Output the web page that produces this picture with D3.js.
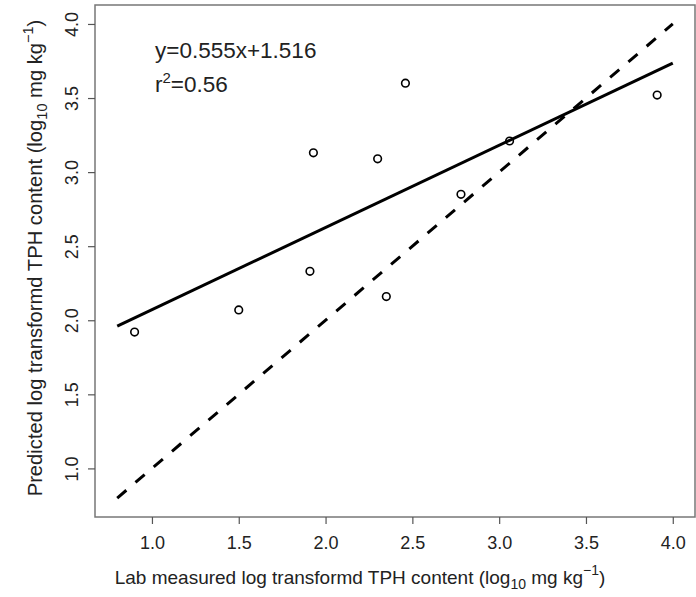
<!DOCTYPE html>
<html><head><meta charset="utf-8">
<script src="https://cdn.jsdelivr.net/npm/d3@7"></script>
<style>body{margin:0;background:#fff;} svg{display:block;font-family:"Liberation Sans",Arial,sans-serif;}</style>
</head><body>
<svg id="c" width="696" height="597"></svg>
<script>
const labX = [0.90, 1.50, 1.91, 1.93, 2.30, 2.35, 2.46, 2.78, 3.06, 3.91];
const predY = [1.92, 2.07, 2.33, 3.13, 3.09, 2.16, 3.60, 2.85, 3.21, 3.52];
const xTicks = [1.0, 1.5, 2.0, 2.5, 3.0, 3.5, 4.0];
const yTicks = [1.0, 1.5, 2.0, 2.5, 3.0, 3.5, 4.0];
const fitSlope = 0.555, fitIntercept = 1.516;
const lineRange = [0.8, 4.0];
const eqText = "y=0.555x+1.516";
const r2Value = "0.56";

const svg = d3.select("#c");
const L = 95, R = 695, T = 5, B = 517;
const x = d3.scaleLinear().domain([0.672, 4.128]).range([L, R]);
const y = d3.scaleLinear().domain([0.672, 4.128]).range([B, T]);
const ink = "#222";

// frame
svg.append("rect").attr("x", L).attr("y", T).attr("width", R - L).attr("height", B - T)
  .attr("fill", "none").attr("stroke", "#777").attr("stroke-width", 1.5);

// x axis
const xa = svg.append("g").attr("transform", `translate(0,${B})`)
  .call(d3.axisBottom(x).tickValues(xTicks).tickSize(7).tickSizeOuter(0).tickFormat(d3.format(".1f")));
xa.select(".domain").remove();
xa.selectAll(".tick line").attr("stroke", "#555").attr("stroke-width", 1.2);
xa.selectAll(".tick text").attr("font-size", 18).attr("fill", ink).attr("font-family", "Liberation Sans, Arial, sans-serif")
  .attr("y", 0).attr("dy", 0).attr("transform", "translate(0,32)");

// y axis
const ya = svg.append("g").attr("transform", `translate(${L},0)`)
  .call(d3.axisLeft(y).tickValues(yTicks).tickSize(7).tickSizeOuter(0).tickFormat(d3.format(".1f")));
ya.select(".domain").remove();
ya.selectAll(".tick line").attr("stroke", "#555").attr("stroke-width", 1.2);
ya.selectAll(".tick text").attr("font-size", 18).attr("fill", ink).attr("font-family", "Liberation Sans, Arial, sans-serif")
  .attr("x", 0).attr("dy", 0).attr("text-anchor", "middle")
  .attr("transform", "translate(-17,0) rotate(-90)");

// 1:1 dashed line
svg.append("line")
  .attr("x1", x(lineRange[0])).attr("y1", y(lineRange[0]))
  .attr("x2", x(lineRange[1])).attr("y2", y(lineRange[1]))
  .attr("stroke", "#000").attr("stroke-width", 3).attr("stroke-dasharray", "12,12");

// regression line
svg.append("line")
  .attr("x1", x(lineRange[0])).attr("y1", y(fitSlope * lineRange[0] + fitIntercept))
  .attr("x2", x(lineRange[1])).attr("y2", y(fitSlope * lineRange[1] + fitIntercept))
  .attr("stroke", "#000").attr("stroke-width", 3);

// points
svg.append("g").selectAll("circle").data(labX.map((v, i) => [v, predY[i]])).join("circle")
  .attr("cx", d => x(d[0])).attr("cy", d => y(d[1])).attr("r", 3.8)
  .attr("fill", "none").attr("stroke", "#000").attr("stroke-width", 1.6);

// annotation
svg.append("text").attr("x", 155).attr("y", 58).attr("font-size", 22.5).attr("fill", ink).text(eqText);
const r2 = svg.append("text").attr("x", 155).attr("y", 92).attr("font-size", 22.5).attr("fill", ink);
r2.append("tspan").text("r");
r2.append("tspan").attr("dy", -9).attr("font-size", 15).text("2");
r2.append("tspan").attr("dy", 9).text("=" + r2Value);

// x title
const xt = svg.append("text").attr("x", 360).attr("y", 584).attr("text-anchor", "middle")
  .attr("font-size", 19).attr("fill", ink);
xt.append("tspan").text("Lab measured log transformd TPH content (log");
xt.append("tspan").attr("dy", 5).attr("font-size", 14).text("10");
xt.append("tspan").attr("dy", -5).text(" mg kg");
xt.append("tspan").attr("dy", -9).attr("font-size", 14).text("\u22121");
xt.append("tspan").attr("dy", 9).text(")");

// y title
const yt = svg.append("text").attr("transform", `translate(42,258) rotate(-90)`)
  .attr("text-anchor", "middle").attr("font-size", 20.2).attr("fill", ink);
yt.append("tspan").text("Predicted log transformd TPH content (log");
yt.append("tspan").attr("dy", 5).attr("font-size", 14.5).text("10");
yt.append("tspan").attr("dy", -5).text(" mg kg");
yt.append("tspan").attr("dy", -9).attr("font-size", 14.5).text("\u22121");
yt.append("tspan").attr("dy", 9).text(")");
</script>
</body></html>
